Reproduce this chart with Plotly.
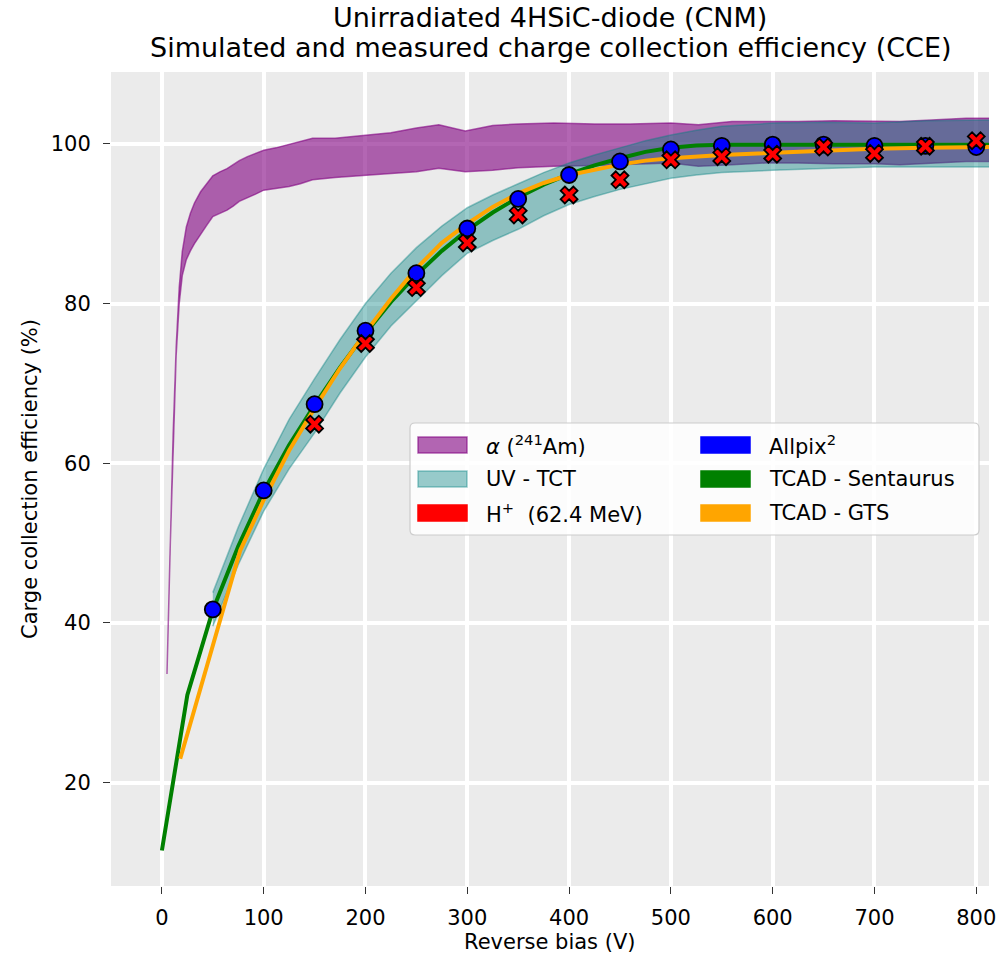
import plotly.graph_objects as go

# ---- alpha (241Am) CCE band ----
alpha_v = [5, 8, 11, 14, 17, 20, 24, 28, 32, 38, 44, 50, 57, 64, 70, 76, 84, 92, 100, 112,
           125, 136, 148, 170, 200, 225, 250, 272, 298, 325, 350, 385, 425, 460, 500, 527,
           560, 593, 625, 660, 700, 725, 756, 790, 815]
alpha_hi = [33.6, 50.0, 63.5, 74.5, 82.0, 86.5, 89.6, 91.3, 92.6, 94.0, 95.0, 96.0, 96.5, 96.9,
            97.4, 97.9, 98.4, 98.8, 99.2, 99.5, 99.9, 100.3, 100.7, 100.7, 101.1, 101.4, 102.0,
            102.4, 101.6, 102.3, 102.5, 102.6, 102.5, 102.5, 102.6, 102.4, 102.8, 102.8, 102.8,
            102.9, 102.8, 102.8, 103.0, 103.2, 103.2]
alpha_lo = [33.6, 48.8, 62.5, 73.5, 80.0, 83.5, 85.5, 86.6, 87.5, 88.7, 89.8, 90.9, 91.3, 91.7,
            92.2, 92.8, 93.2, 93.7, 94.2, 94.4, 94.65, 95.0, 95.5, 95.8, 96.1, 96.3, 96.5, 96.95,
            96.5, 96.7, 97.0, 97.2, 97.3, 97.4, 97.6, 97.2, 97.4, 97.6, 97.6, 97.5, 97.5, 97.4,
            97.6, 97.8, 97.8]

# ---- UV-TCT band ----
tct_v = [50, 75, 100, 125, 150, 175, 200, 225, 250, 275, 300, 325, 350, 375, 400, 425, 450,
         475, 500, 525, 550, 600, 650, 700, 750, 815]
tct_hi = [43.8, 52.0, 59.3, 65.5, 70.6, 75.5, 80.0, 83.8, 87.0, 89.7, 92.0, 93.6, 95.0, 96.4,
          97.6, 98.6, 99.5, 100.4, 101.1, 101.7, 102.2, 102.6, 102.7, 102.6, 102.9, 103.0]
tct_lo = [39.6, 47.3, 54.0, 59.3, 63.8, 68.8, 73.3, 77.2, 80.4, 83.5, 86.3, 87.9, 89.3, 91.0,
          92.4, 93.4, 94.3, 95.0, 95.7, 96.1, 96.4, 96.7, 96.9, 97.1, 97.1, 97.1]

# ---- TCAD Sentaurus ----
sent_v = [0, 25, 50, 75, 100, 125, 150, 175, 200, 225, 250, 275, 300, 325, 350, 375, 400, 425,
          450, 475, 500, 525, 550, 600, 650, 700, 750, 815]
sent_cce = [11.5, 31.0, 41.6, 49.6, 56.5, 62.3, 67.3, 72.0, 76.3, 80.2, 83.6, 86.6, 89.2, 91.4,
            93.3, 94.9, 96.2, 97.3, 98.2, 99.0, 99.5, 99.8, 99.9, 99.9, 99.9, 99.9, 99.9, 99.9]

# ---- TCAD GTS ----
gts_v = [18, 40, 60, 77, 100, 125, 150, 175, 200, 225, 250, 275, 300, 325, 350, 375, 400, 425,
         450, 475, 500, 550, 600, 650, 700, 750, 815]
gts_cce = [23.0, 32.8, 41.7, 49.1, 55.4, 61.6, 66.9, 71.9, 76.4, 80.6, 84.4, 87.6, 90.0, 92.1,
           93.8, 95.1, 96.1, 96.8, 97.4, 97.9, 98.2, 98.6, 98.9, 99.2, 99.4, 99.5, 99.6]

# ---- Allpix^2 ----
allpix_v = [50, 100, 150, 200, 250, 300, 350, 400, 450, 500, 550, 600, 650, 700, 750, 800]
allpix_cce = [41.7, 56.6, 67.4, 76.6, 83.8, 89.4, 93.1, 96.1, 97.8, 99.3, 99.75, 99.9, 99.9,
              99.75, 99.75, 99.6]

# ---- H+ (62.4 MeV) ----
proton_v = [150, 200, 250, 300, 350, 400, 450, 500, 550, 600, 650, 700, 750, 800]
proton_cce = [64.9, 75.0, 82.0, 87.6, 91.1, 93.6, 95.5, 98.0, 98.4, 98.7, 99.6, 98.8, 99.7, 100.4]

x_ticks = [0, 100, 200, 300, 400, 500, 600, 700, 800]
y_ticks = [20, 40, 60, 80, 100]

legend_entries = [
    ("<i>α</i> (<sup>241</sup>Am)", "rgba(128,0,128,0.6)", "rgba(128,0,128,0.6)"),
    ("UV - TCT", "rgba(0,128,128,0.4)", "rgba(0,128,128,0.4)"),
    ("H<sup>+</sup>  (62.4 MeV)", "red", "red"),
    ("Allpix<sup>2</sup>", "blue", "blue"),
    ("TCAD - Sentaurus", "green", "green"),
    ("TCAD - GTS", "orange", "orange"),
]

FONT = "DejaVu Sans"
W, H = 1002, 954
L, R, T, B = 111, 989, 72, 886


def px_x(px):
    return (px - L) / (R - L)


def px_y(py):
    return (B - py) / (B - T)


fig = go.Figure()


def band(xs, lo, hi, color):
    return go.Scatter(
        x=list(xs) + list(xs)[::-1],
        y=list(hi) + list(lo)[::-1],
        mode="lines", fill="toself", fillcolor=color,
        line=dict(color=color, width=1.5),
        hoverinfo="skip", showlegend=False,
    )


fig.add_trace(band(alpha_v, alpha_lo, alpha_hi, "rgba(128,0,128,0.6)"))
fig.add_trace(band(tct_v, tct_lo, tct_hi, "rgba(0,128,128,0.4)"))
fig.add_trace(go.Scatter(x=sent_v, y=sent_cce, mode="lines",
                         line=dict(color="green", width=4), showlegend=False))
fig.add_trace(go.Scatter(x=gts_v, y=gts_cce, mode="lines",
                         line=dict(color="orange", width=4), showlegend=False))
fig.add_trace(go.Scatter(x=allpix_v, y=allpix_cce, mode="markers",
                         marker=dict(color="blue", size=16, line=dict(color="black", width=1.8)),
                         showlegend=False))
fig.add_trace(go.Scatter(x=proton_v, y=proton_cce, mode="markers",
                         marker=dict(symbol="x", color="red", size=15,
                                     line=dict(color="black", width=1.8)),
                         showlegend=False))

shapes = []
annotations = []

# legend frame with rounded corners
x0, x1 = px_x(410), px_x(979)
y0, y1 = px_y(535), px_y(423)
rx, ry = 5 / (R - L), 5 / (B - T)
path = (f"M {x0+rx},{y0} L {x1-rx},{y0} Q {x1},{y0} {x1},{y0+ry} "
        f"L {x1},{y1-ry} Q {x1},{y1} {x1-rx},{y1} L {x0+rx},{y1} Q {x0},{y1} {x0},{y1-ry} "
        f"L {x0},{y0+ry} Q {x0},{y0} {x0+rx},{y0} Z")
shapes.append(dict(type="path", xref="paper", yref="paper", path=path,
                   fillcolor="rgba(255,255,255,0.82)", line=dict(color="#cccccc", width=1.2),
                   layer="above"))

row_y = [445, 479, 513]
col_patch = [(418, 467), (701, 750)]
col_text = [484, 767]
for i, (label, fill, edge) in enumerate(legend_entries):
    col, row = divmod(i, 3)
    cy = row_y[row]
    shapes.append(dict(type="rect", xref="paper", yref="paper",
                       x0=px_x(col_patch[col][0]), x1=px_x(col_patch[col][1]),
                       y0=px_y(cy + 8), y1=px_y(cy - 8),
                       fillcolor=fill, line=dict(color=edge, width=1.5), layer="above"))
    annotations.append(dict(xref="paper", yref="paper", x=px_x(col_text[col]), y=px_y(cy),
                            xanchor="left", yanchor="middle", showarrow=False, text=label,
                            font=dict(family=FONT, size=21, color="black")))

# titles
annotations.append(dict(xref="paper", yref="paper", x=0.5, y=px_y(18), xanchor="center",
                        yanchor="middle", showarrow=False,
                        text="Unirradiated 4HSiC-diode (CNM)",
                        font=dict(family=FONT, size=27, color="black")))
annotations.append(dict(xref="paper", yref="paper", x=0.5, y=px_y(48), xanchor="center",
                        yanchor="middle", showarrow=False,
                        text="Simulated and measured charge collection efficiency (CCE)",
                        font=dict(family=FONT, size=27, color="black")))
# axis titles
annotations.append(dict(xref="paper", yref="paper", x=0.5, y=px_y(942), xanchor="center",
                        yanchor="middle", showarrow=False, text="Reverse bias (V)",
                        font=dict(family=FONT, size=21, color="black")))
annotations.append(dict(xref="paper", yref="paper", x=px_x(30), y=0.5, xanchor="center",
                        yanchor="middle", showarrow=False, textangle=-90,
                        text="Carge collection efficiency (%)",
                        font=dict(family=FONT, size=21, color="black")))

fig.update_layout(
    width=W, height=H,
    margin=dict(l=L, r=W - R, t=T, b=H - B, autoexpand=False),
    paper_bgcolor="white", plot_bgcolor="#EBEBEB",
    font=dict(family=FONT, size=21, color="black"),
    shapes=shapes, annotations=annotations,
    showlegend=False,
)
fig.update_xaxes(range=[-50, 812.5], tickvals=x_ticks, ticks="outside", ticklen=7,
                 tickwidth=1.3, tickcolor="#333333", showgrid=True, gridcolor="white",
                 gridwidth=4, zeroline=False, showline=False, ticklabelstandoff=6,
                 automargin=False, tickfont=dict(family=FONT, size=21, color="black"))
fig.update_yaxes(range=[7.06, 109.0], tickvals=y_ticks, ticks="outside", ticklen=7,
                 tickwidth=1.3, tickcolor="#333333", showgrid=True, gridcolor="white",
                 gridwidth=4, zeroline=False, showline=False, ticklabelstandoff=8,
                 automargin=False, tickfont=dict(family=FONT, size=21, color="black"))

fig.write_html("out.html")
